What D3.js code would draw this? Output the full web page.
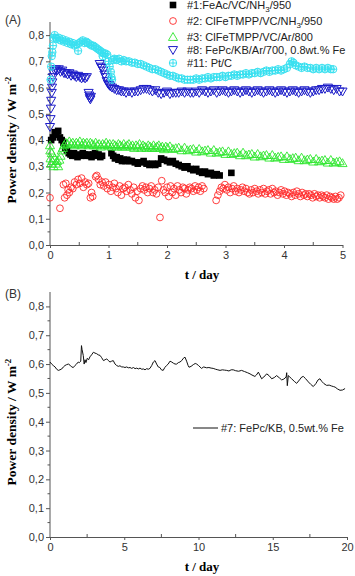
<!DOCTYPE html>
<html><head><meta charset="utf-8">
<script src="https://cdn.jsdelivr.net/npm/d3@7"></script>
<style>body{margin:0;background:#fff}svg{display:block}</style>
</head><body>
<script>
// ---------- DATA ----------
const xTicksA = [0,1,2,3,4,5];
const xTicksB = [0,5,10,15,20];
const yTicks = [0,0.1,0.2,0.3,0.4,0.5,0.6,0.7,0.8];
const yTickLabels = ["0,0","0,1","0,2","0,3","0,4","0,5","0,6","0,7","0,8"];

const s1_FeAc = [[0.02,0.40],[0.05,0.41],[0.08,0.43],[0.11,0.42],[0.14,0.435],[0.17,0.41],[0.20,0.40],[0.23,0.39],[0.26,0.37],[0.29,0.36],[0.32,0.35],[0.35,0.345],[0.38,0.34],[0.41,0.35],[0.44,0.34],[0.47,0.335],[0.50,0.345],[0.53,0.34],[0.56,0.35],[0.59,0.345],[0.62,0.34],[0.65,0.345],[0.68,0.34],[0.71,0.335],[0.74,0.345],[0.77,0.35],[0.80,0.34],[0.83,0.345],[0.86,0.335],[0.89,0.34],[1.05,0.35],[1.08,0.34],[1.11,0.33],[1.14,0.335],[1.17,0.325],[1.20,0.33],[1.23,0.32],[1.26,0.325],[1.29,0.32],[1.32,0.325],[1.35,0.32],[1.40,0.32],[1.45,0.315],[1.50,0.31],[1.55,0.315],[1.60,0.32],[1.65,0.31],[1.70,0.305],[1.75,0.31],[1.80,0.305],[1.85,0.31],[1.90,0.33],[1.95,0.325],[2.00,0.32],[2.05,0.315],[2.10,0.32],[2.15,0.31],[2.20,0.305],[2.25,0.30],[2.30,0.295],[2.35,0.30],[2.40,0.29],[2.45,0.285],[2.50,0.29],[2.55,0.28],[2.60,0.275],[2.65,0.28],[2.70,0.27],[2.75,0.275],[2.80,0.265],[2.85,0.27],[2.90,0.265],[3.10,0.275]];

const s2_ClFeTMPP_NH3 = [[0.00,0.18],[0.17,0.14],[0.23,0.23],[0.25,0.18],[0.27,0.235],[0.29,0.19],[0.31,0.21],[0.33,0.20],[0.36,0.22],[0.39,0.215],[0.42,0.24],[0.45,0.23],[0.48,0.25],[0.51,0.235],[0.54,0.255],[0.57,0.22],[0.60,0.24],[0.63,0.23],[0.66,0.235],[0.69,0.18],[0.71,0.20],[0.73,0.185],[0.78,0.26],[0.80,0.265],[0.83,0.25],[0.86,0.23],[0.89,0.24],[0.92,0.225],[0.95,0.24],[0.98,0.215],[1.01,0.23],[1.04,0.205],[1.07,0.22],[1.10,0.235],[1.13,0.215],[1.16,0.20],[1.19,0.225],[1.22,0.19],[1.25,0.215],[1.28,0.22],[1.31,0.205],[1.34,0.23],[1.37,0.21],[1.40,0.195],[1.43,0.22],[1.46,0.18],[1.49,0.205],[1.52,0.17],[1.55,0.215],[1.58,0.225],[1.61,0.21],[1.64,0.22],[1.67,0.20],[1.70,0.215],[1.73,0.225],[1.76,0.20],[1.79,0.21],[1.82,0.195],[1.85,0.22],[1.88,0.105],[1.91,0.245],[1.94,0.21],[1.97,0.20],[2.00,0.22],[2.03,0.185],[2.06,0.225],[2.09,0.20],[2.12,0.215],[2.15,0.19],[2.18,0.225],[2.21,0.21],[2.24,0.20],[2.27,0.22],[2.30,0.215],[2.33,0.195],[2.36,0.21],[2.39,0.22],[2.42,0.215],[2.45,0.205],[2.48,0.225],[2.51,0.21],[2.54,0.22],[2.57,0.205],[2.60,0.225],[2.63,0.215],[2.84,0.17],[2.87,0.19],[2.90,0.205],[2.93,0.22],[2.96,0.215],[2.99,0.23],[3.02,0.21],[3.05,0.22],[3.08,0.20],[3.11,0.215],[3.14,0.225],[3.17,0.205],[3.20,0.215],[3.23,0.20],[3.26,0.21],[3.29,0.22],[3.32,0.205],[3.35,0.215],[3.38,0.20],[3.41,0.195],[3.44,0.21],[3.47,0.20],[3.50,0.215],[3.53,0.205],[3.56,0.195],[3.59,0.21],[3.62,0.20],[3.65,0.215],[3.68,0.195],[3.71,0.205],[3.74,0.21],[3.77,0.195],[3.80,0.215],[3.83,0.20],[3.86,0.205],[3.89,0.19],[3.92,0.20],[3.95,0.21],[3.98,0.195],[4.01,0.205],[4.04,0.19],[4.07,0.20],[4.10,0.195],[4.13,0.185],[4.16,0.20],[4.19,0.19],[4.22,0.205],[4.25,0.195],[4.28,0.185],[4.31,0.20],[4.34,0.19],[4.37,0.195],[4.40,0.185],[4.43,0.195],[4.46,0.19],[4.49,0.18],[4.52,0.195],[4.55,0.185],[4.58,0.19],[4.61,0.18],[4.64,0.19],[4.67,0.185],[4.70,0.18],[4.73,0.19],[4.76,0.175],[4.79,0.185],[4.82,0.18],[4.85,0.175],[4.88,0.185],[4.91,0.175],[4.94,0.18],[4.97,0.19]];

const s3_ClFeTMPP_Ar = [[0.00,0.38],[0.005,0.36],[0.01,0.33],[0.02,0.31],[0.03,0.35],[0.04,0.32],[0.06,0.30],[0.08,0.33],[0.10,0.31],[0.12,0.32],[0.14,0.30],[0.16,0.325],[0.18,0.34],[0.20,0.36],[0.22,0.37],[0.24,0.38],[0.27,0.39],[0.30,0.385],[0.33,0.395],[0.36,0.385],[0.39,0.39],[0.42,0.38],[0.45,0.39],[0.48,0.385],[0.51,0.395],[0.54,0.38],[0.57,0.39],[0.60,0.385],[0.63,0.39],[0.66,0.38],[0.69,0.39],[0.72,0.385],[0.75,0.38],[0.78,0.39],[0.81,0.38],[0.84,0.385],[0.87,0.375],[0.90,0.385],[0.93,0.38],[0.96,0.39],[0.99,0.38],[1.02,0.385],[1.05,0.375],[1.08,0.385],[1.11,0.38],[1.14,0.375],[1.17,0.385],[1.20,0.38],[1.23,0.375],[1.26,0.385],[1.29,0.375],[1.32,0.38],[1.35,0.385],[1.38,0.375],[1.41,0.38],[1.44,0.37],[1.47,0.38],[1.50,0.375],[1.53,0.385],[1.56,0.37],[1.59,0.38],[1.62,0.375],[1.65,0.37],[1.68,0.38],[1.71,0.375],[1.74,0.37],[1.77,0.38],[1.80,0.37],[1.83,0.375],[1.86,0.38],[1.89,0.37],[1.92,0.375],[1.95,0.365],[1.98,0.375],[2.01,0.37],[2.05,0.376],[2.10,0.366],[2.15,0.369],[2.20,0.371],[2.25,0.361],[2.30,0.371],[2.35,0.361],[2.40,0.364],[2.45,0.366],[2.50,0.356],[2.55,0.366],[2.60,0.357],[2.65,0.360],[2.70,0.362],[2.75,0.352],[2.80,0.362],[2.85,0.352],[2.90,0.355],[2.95,0.357],[3.00,0.347],[3.05,0.357],[3.10,0.347],[3.15,0.350],[3.20,0.352],[3.25,0.342],[3.30,0.352],[3.35,0.342],[3.40,0.345],[3.45,0.347],[3.50,0.337],[3.55,0.347],[3.60,0.338],[3.65,0.341],[3.70,0.343],[3.75,0.333],[3.80,0.343],[3.85,0.333],[3.90,0.336],[3.95,0.338],[4.00,0.328],[4.05,0.338],[4.10,0.328],[4.15,0.331],[4.20,0.333],[4.25,0.323],[4.30,0.333],[4.35,0.323],[4.40,0.326],[4.45,0.328],[4.50,0.318],[4.55,0.328],[4.60,0.319],[4.65,0.322],[4.70,0.324],[4.75,0.314],[4.80,0.324],[4.85,0.314],[4.90,0.317],[4.95,0.319],[5.00,0.312]];

const s8_FePc_Ar = [[0.00,0.45],[0.01,0.48],[0.015,0.52],[0.02,0.55],[0.03,0.58],[0.035,0.60],[0.04,0.62],[0.05,0.64],[0.06,0.655],[0.08,0.665],[0.10,0.67],[0.12,0.665],[0.15,0.67],[0.18,0.66],[0.21,0.665],[0.24,0.655],[0.27,0.655],[0.30,0.65],[0.33,0.655],[0.36,0.645],[0.39,0.65],[0.42,0.645],[0.45,0.64],[0.48,0.645],[0.51,0.64],[0.54,0.635],[0.57,0.64],[0.60,0.635],[0.63,0.64],[0.66,0.58],[0.67,0.57],[0.68,0.56],[0.69,0.555],[0.70,0.565],[0.85,0.69],[0.87,0.68],[0.89,0.675],[0.91,0.665],[0.93,0.65],[0.95,0.64],[0.97,0.625],[0.99,0.615],[1.01,0.61],[1.03,0.605],[1.06,0.60],[1.10,0.595],[1.14,0.59],[1.18,0.59],[1.22,0.585],[1.26,0.585],[1.30,0.58],[1.35,0.585],[1.40,0.58],[1.45,0.585],[1.50,0.585],[1.55,0.59],[1.60,0.595],[1.65,0.595],[1.70,0.59],[1.75,0.585],[1.80,0.59],[1.85,0.58],[1.90,0.575],[1.95,0.58],[2.00,0.585],[2.05,0.575],[2.10,0.58],[2.15,0.58],[2.20,0.58],[2.25,0.585],[2.30,0.58],[2.35,0.585],[2.40,0.58],[2.45,0.58],[2.50,0.585],[2.55,0.58],[2.60,0.59],[2.65,0.585],[2.70,0.58],[2.75,0.585],[2.80,0.59],[2.85,0.58],[2.90,0.585],[2.95,0.59],[3.00,0.585],[3.05,0.58],[3.10,0.585],[3.15,0.59],[3.20,0.585],[3.25,0.58],[3.30,0.585],[3.35,0.59],[3.40,0.585],[3.45,0.58],[3.50,0.585],[3.55,0.59],[3.60,0.585],[3.65,0.58],[3.70,0.585],[3.75,0.59],[3.80,0.585],[3.85,0.58],[3.90,0.585],[3.95,0.59],[4.00,0.585],[4.05,0.58],[4.10,0.585],[4.15,0.59],[4.20,0.585],[4.25,0.58],[4.30,0.585],[4.35,0.59],[4.40,0.585],[4.45,0.58],[4.50,0.585],[4.55,0.59],[4.60,0.59],[4.65,0.595],[4.70,0.595],[4.75,0.60],[4.80,0.595],[4.85,0.59],[4.90,0.595],[4.95,0.585],[5.00,0.585]];

const s11_PtC = [[0.01,0.63],[0.02,0.68],[0.03,0.72],[0.04,0.735],[0.05,0.76],[0.06,0.79],[0.08,0.80],[0.10,0.79],[0.12,0.785],[0.15,0.79],[0.18,0.78],[0.21,0.785],[0.24,0.775],[0.27,0.78],[0.30,0.77],[0.33,0.775],[0.36,0.765],[0.39,0.77],[0.42,0.76],[0.45,0.765],[0.48,0.74],[0.50,0.77],[0.53,0.775],[0.56,0.78],[0.59,0.77],[0.62,0.775],[0.65,0.77],[0.68,0.765],[0.71,0.76],[0.74,0.76],[0.77,0.755],[0.80,0.75],[0.83,0.745],[0.86,0.74],[0.89,0.735],[0.90,0.72],[0.92,0.73],[0.95,0.73],[0.98,0.725],[1.00,0.70],[1.02,0.68],[1.04,0.66],[1.05,0.64],[1.06,0.63],[1.08,0.705],[1.10,0.71],[1.14,0.705],[1.18,0.71],[1.22,0.70],[1.26,0.705],[1.30,0.70],[1.35,0.70],[1.40,0.695],[1.45,0.695],[1.50,0.69],[1.55,0.69],[1.60,0.685],[1.65,0.68],[1.70,0.675],[1.75,0.67],[1.80,0.67],[1.85,0.665],[1.90,0.66],[1.95,0.655],[2.00,0.65],[2.05,0.645],[2.10,0.645],[2.15,0.64],[2.20,0.635],[2.25,0.635],[2.30,0.63],[2.35,0.63],[2.40,0.63],[2.45,0.63],[2.50,0.635],[2.55,0.63],[2.60,0.635],[2.65,0.635],[2.70,0.64],[2.75,0.635],[2.80,0.64],[2.85,0.64],[2.90,0.64],[2.95,0.645],[3.00,0.64],[3.05,0.645],[3.10,0.645],[3.15,0.65],[3.20,0.645],[3.25,0.65],[3.30,0.65],[3.35,0.655],[3.40,0.65],[3.45,0.655],[3.50,0.655],[3.55,0.66],[3.60,0.655],[3.65,0.66],[3.70,0.665],[3.75,0.66],[3.80,0.665],[3.85,0.665],[3.90,0.67],[3.95,0.665],[4.00,0.67],[4.05,0.675],[4.10,0.69],[4.13,0.70],[4.16,0.695],[4.20,0.685],[4.25,0.68],[4.30,0.675],[4.35,0.68],[4.40,0.675],[4.45,0.675],[4.50,0.67],[4.55,0.675],[4.60,0.67],[4.65,0.675],[4.70,0.67],[4.75,0.675],[4.80,0.67],[4.84,0.67]];

const s7_FePc_KB = [[0,0.607],[0.11,0.60],[0.22,0.595],[0.34,0.59],[0.45,0.582],[0.56,0.578],[0.67,0.58],[0.79,0.583],[0.9,0.59],[1.01,0.595],[1.12,0.598],[1.24,0.60],[1.35,0.596],[1.46,0.59],[1.57,0.588],[1.68,0.595],[1.79,0.60],[1.9,0.607],[1.98,0.605],[2.07,0.61],[2.12,0.664],[2.16,0.65],[2.24,0.63],[2.3,0.60],[2.36,0.615],[2.42,0.605],[2.51,0.62],[2.6,0.615],[2.69,0.625],[2.8,0.632],[2.92,0.641],[3.03,0.638],[3.14,0.636],[3.25,0.632],[3.37,0.63],[3.48,0.622],[3.6,0.612],[3.71,0.615],[3.82,0.618],[3.93,0.612],[4.04,0.607],[4.15,0.61],[4.26,0.612],[4.38,0.60],[4.49,0.595],[4.6,0.592],[4.71,0.594],[4.83,0.59],[4.94,0.59],[5.05,0.588],[5.16,0.59],[5.28,0.587],[5.39,0.588],[5.5,0.585],[5.62,0.588],[5.73,0.584],[5.84,0.586],[5.95,0.583],[6.06,0.586],[6.18,0.582],[6.29,0.583],[6.4,0.58],[6.51,0.584],[6.62,0.582],[6.73,0.585],[6.85,0.595],[6.96,0.607],[7.07,0.612],[7.18,0.60],[7.29,0.59],[7.4,0.588],[7.5,0.58],[7.62,0.578],[7.73,0.588],[7.85,0.595],[7.96,0.60],[8.08,0.61],[8.2,0.607],[8.31,0.603],[8.42,0.60],[8.53,0.60],[8.64,0.605],[8.75,0.607],[8.87,0.612],[8.98,0.62],[9.09,0.624],[9.2,0.61],[9.3,0.595],[9.36,0.589],[9.5,0.592],[9.65,0.598],[9.78,0.602],[9.88,0.60],[10.0,0.595],[10.1,0.59],[10.2,0.585],[10.35,0.59],[10.55,0.587],[10.7,0.588],[10.85,0.586],[10.99,0.585],[11.15,0.582],[11.3,0.58],[11.45,0.578],[11.6,0.58],[11.75,0.579],[11.9,0.578],[12.05,0.576],[12.2,0.58],[12.34,0.58],[12.5,0.577],[12.7,0.575],[12.9,0.578],[13.1,0.574],[13.3,0.57],[13.47,0.566],[13.6,0.562],[13.8,0.557],[13.9,0.562],[14.03,0.572],[14.1,0.565],[14.25,0.549],[14.4,0.555],[14.59,0.566],[14.75,0.56],[14.93,0.549],[15.1,0.553],[15.26,0.56],[15.45,0.552],[15.6,0.545],[15.75,0.548],[15.9,0.555],[15.94,0.57],[15.98,0.525],[16.05,0.56],[16.15,0.555],[16.27,0.549],[16.45,0.54],[16.61,0.533],[16.8,0.545],[16.95,0.555],[17.06,0.557],[17.2,0.55],[17.4,0.538],[17.55,0.53],[17.73,0.522],[17.9,0.532],[18.05,0.545],[18.18,0.549],[18.3,0.54],[18.45,0.532],[18.63,0.526],[18.8,0.527],[18.95,0.524],[19.08,0.522],[19.2,0.52],[19.35,0.514],[19.53,0.509],[19.7,0.51],[19.87,0.515]];

const legendA = [
  {pre:"#1:FeAc/VC/NH", sub:"3", post:"/950", sym:"square", color:"#000000"},
  {pre:"#2: ClFeTMPP/VC/NH", sub:"3", post:"/950", sym:"circle", color:"#ff2a2a"},
  {pre:"#3: ClFeTMPP/VC/Ar/800", sub:"", post:"", sym:"triUp", color:"#2ee62e"},
  {pre:"#8: FePc/KB/Ar/700, 0.8wt.% Fe", sub:"", post:"", sym:"triDown", color:"#1c1cc8"},
  {pre:"#11: Pt/C", sub:"", post:"", sym:"crossCircle", color:"#38e0f0"}
];
const seriesA = [s1_FeAc, s2_ClFeTMPP_NH3, s3_ClFeTMPP_Ar, s8_FePc_Ar, s11_PtC];
const legendB = "#7: FePc/KB, 0.5wt.% Fe";

// ---------- DRAW ----------
const W = 355, H = 576;
const svg = d3.select("body").append("svg").attr("width", W).attr("height", H);
const axisColor = "#555";
const tickFont = "Liberation Sans, Arial, sans-serif";
const titleFont = "Liberation Serif, Times New Roman, serif";

function drawPanel(cfg) {
  const x = d3.scaleLinear().domain(cfg.xDomain).range([50, cfg.xRight]);
  const y = d3.scaleLinear().domain([0, 0.85]).range([cfg.yBottom, cfg.yTop]);
  const g = svg.append("g");
  // y axis
  const yAx = d3.axisLeft(y).tickValues(yTicks).tickFormat((d,i)=>yTickLabels[i]).tickSize(4).tickPadding(2).tickSizeOuter(0);
  const ya = g.append("g").attr("transform","translate(50,0)").call(yAx);
  ya.select(".domain").attr("d", `M0,${cfg.yTop}V${cfg.yBottom}`);
  // minor y ticks
  g.append("g").selectAll("line").data(d3.range(0.05,0.85,0.1)).join("line")
    .attr("x1",47.5).attr("x2",50).attr("y1",d=>y(d)).attr("y2",d=>y(d)).attr("stroke",axisColor);
  // x axis
  const xAx = d3.axisBottom(x).tickValues(cfg.xTicks).tickFormat(d3.format("d")).tickSize(3).tickPadding(3).tickSizeOuter(0);
  const xa = g.append("g").attr("transform",`translate(0,${cfg.yBottom})`).call(xAx);
  g.append("g").selectAll("line").data(cfg.xMinor).join("line")
    .attr("x1",d=>x(d)).attr("x2",d=>x(d)).attr("y1",cfg.yBottom-3).attr("y2",cfg.yBottom).attr("stroke",axisColor);
  [ya, xa].forEach(a=>{
    a.selectAll("path,line").attr("stroke",axisColor).attr("stroke-width",1);
    a.selectAll("text").attr("fill","#333").style("font-family",tickFont).style("font-size","11px");
  });
  // titles
  g.append("text").attr("x",202).attr("y",cfg.yBottom+34).attr("text-anchor","middle")
    .style("font-family",titleFont).style("font-weight","bold").style("font-size","13px").text("t / day");
  const yt = g.append("text").attr("transform",`translate(16,${cfg.yLabelC}) rotate(-90)`).attr("text-anchor","middle")
    .style("font-family",titleFont).style("font-weight","bold").style("font-size","13.5px");
  yt.append("tspan").text("Power density / W m");
  yt.append("tspan").attr("dy",-5).style("font-size","9px").text("-2");
  g.append("text").attr("x",5).attr("y",cfg.panelY).style("font-family",tickFont).style("font-size","12px").attr("fill","#333").text(cfg.panel);
  return {x,y,g};
}

const A = drawPanel({xDomain:[0,5], xRight:342.5, yBottom:245, yTop:22, xTicks:xTicksA, xMinor:[0.5,1.5,2.5,3.5,4.5], yLabelC:140, panel:"(A)", panelY:24});
const B = drawPanel({xDomain:[0,20], xRight:347, yBottom:537, yTop:292, xTicks:xTicksB, xMinor:[2.5,7.5,12.5,17.5], yLabelC:422, panel:"(B)", panelY:298});

function drawSym(sel, type, color) {
  if (type === "square") {
    sel.append("rect").attr("x",-3.3).attr("y",-3.3).attr("width",6.6).attr("height",6.6).attr("fill",color);
  } else if (type === "circle") {
    sel.append("circle").attr("r",3.4).attr("fill","none").attr("stroke",color).attr("stroke-width",0.9);
  } else if (type === "triUp") {
    sel.append("path").attr("d",d3.symbol(d3.symbolTriangle,36)()).attr("transform","translate(0,0.8)").attr("fill","none").attr("stroke",color).attr("stroke-width",0.9);
  } else if (type === "triDown") {
    sel.append("path").attr("d",d3.symbol(d3.symbolTriangle,36)()).attr("transform","translate(0,-0.8) rotate(180)").attr("fill","none").attr("stroke",color).attr("stroke-width",1);
  } else if (type === "crossCircle") {
    sel.append("circle").attr("r",3.7).attr("fill","none").attr("stroke",color).attr("stroke-width",1);
    sel.append("path").attr("d","M-3.7,0H3.7M0,-3.7V3.7").attr("stroke",color).attr("stroke-width",1);
  }
}

seriesA.forEach((data, i) => {
  const L = legendA[i];
  A.g.append("g").selectAll("g").data(data).join("g")
    .attr("transform", d => `translate(${A.x(d[0])},${A.y(d[1])})`)
    .each(function(){ drawSym(d3.select(this), L.sym, L.color); });
});

// legend A
const legY = [5, 21, 37, 50, 63];
legendA.forEach((L, i) => {
  const lg = svg.append("g").attr("transform", `translate(173,${legY[i]})`);
  drawSym(lg, L.sym, L.color);
  const t = lg.append("text").attr("x",14).attr("y",4).style("font-family",tickFont).style("font-size","11px").attr("fill","#222");
  t.append("tspan").text(L.pre);
  if (L.sub) {
    t.append("tspan").attr("dy",3).style("font-size","8px").text(L.sub);
    t.append("tspan").attr("dy",-3).text(L.post);
  }
});

// panel B line
B.g.append("path").datum(s7_FePc_KB)
  .attr("d", d3.line().x(d=>B.x(d[0])).y(d=>B.y(d[1])))
  .attr("fill","none").attr("stroke","#111").attr("stroke-width",1);
const lb = svg.append("g").attr("transform","translate(193,428)");
lb.append("line").attr("x1",0).attr("x2",25).attr("stroke","#111").attr("stroke-width",1);
lb.append("text").attr("x",28).attr("y",4).style("font-family",tickFont).style("font-size","11px").attr("fill","#222").text(legendB);
</script>
</body></html>
